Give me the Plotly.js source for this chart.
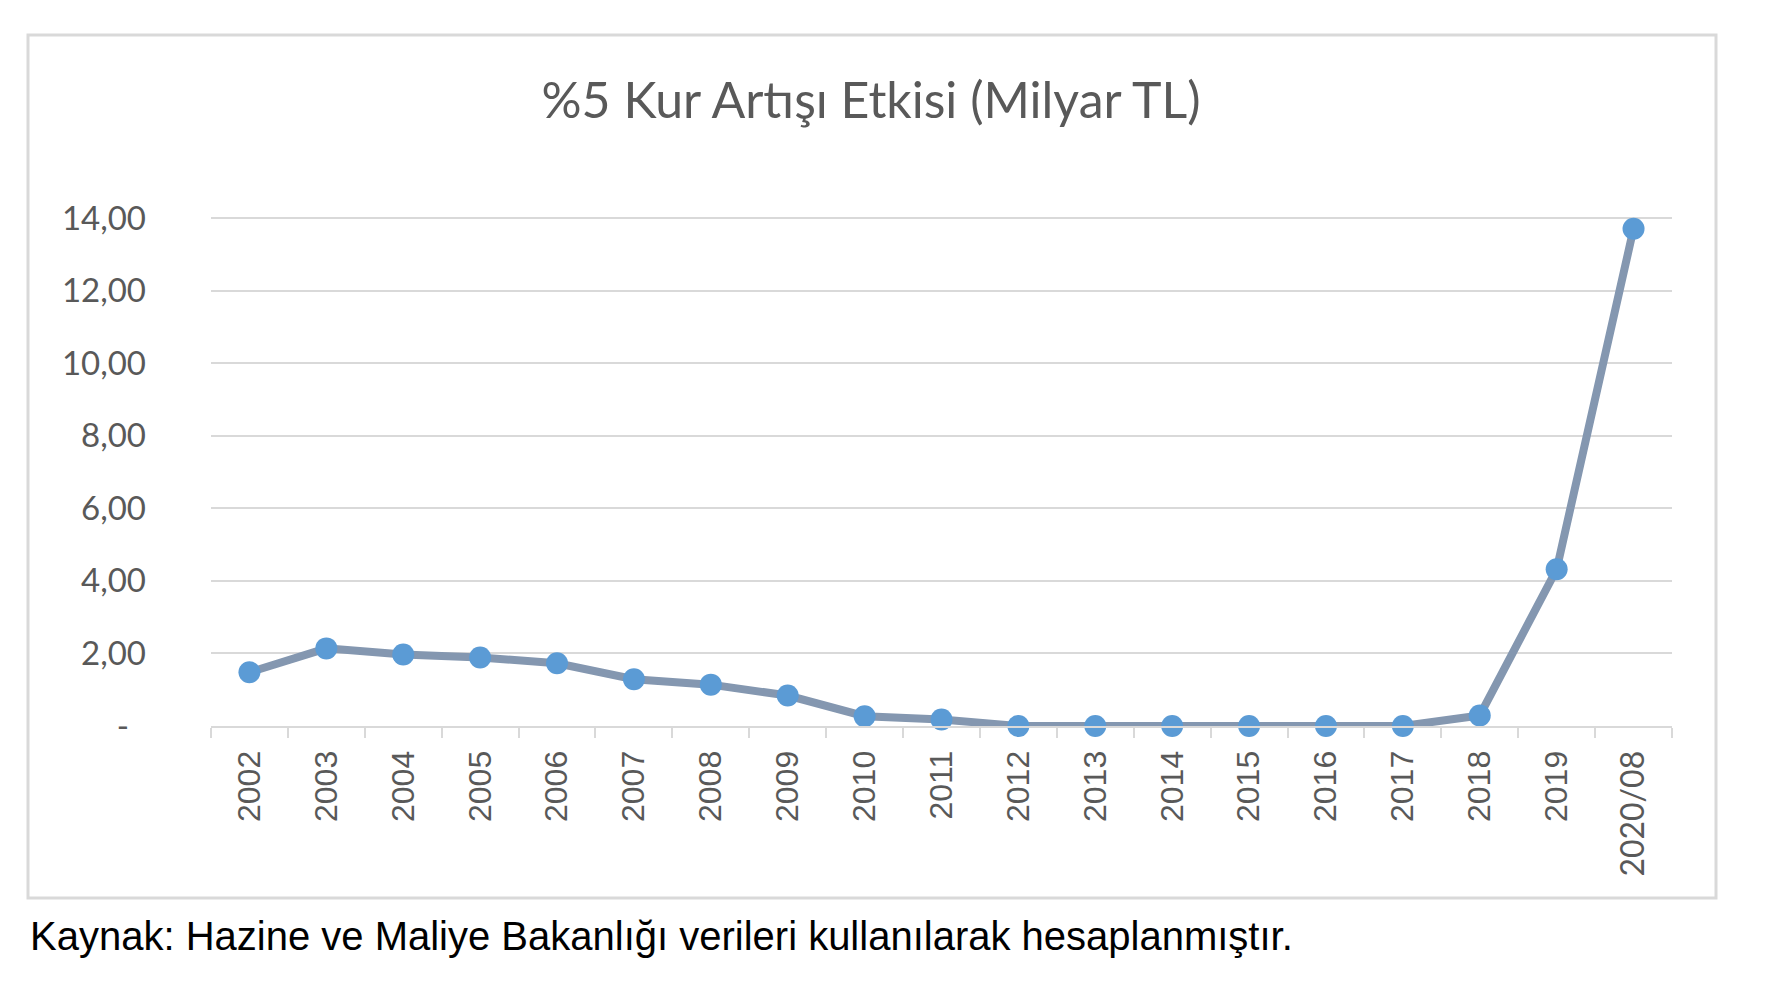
<!DOCTYPE html>
<html>
<head>
<meta charset="utf-8">
<script src="https://cdn.plot.ly/plotly-3.0.1.min.js"></script>
<style>
html,body{margin:0;padding:0;background:#fff;}
#chart{width:1778px;height:984px;}
</style>
</head>
<body>
<div id="chart"></div>
<script>
const categories = ["2002","2003","2004","2005","2006","2007","2008","2009","2010","2011","2012","2013","2014","2015","2016","2017","2018","2019","2020/08"];
const values = [1.48, 2.14, 1.97, 1.89, 1.73, 1.29, 1.14, 0.84, 0.27, 0.18, 0.0, 0.0, 0.0, 0.0, 0.0, 0.0, 0.29, 4.32, 13.71];
const yTickVals = [0, 2, 4, 6, 8, 10, 12, 14];
const yTickText = ["-\u00a0\u00a0", "2,00", "4,00", "6,00", "8,00", "10,00", "12,00", "14,00"];
const titleText = "%5 Kur Artışı Etkisi (Milyar TL)";
const sourceText = "Kaynak: Hazine ve Maliye Bakanlığı verileri kullanılarak hesaplanmıştır.";

// plot area in pixels
const L = 211, R = 1672, T = 216, B = 726, W = 1778, H = 984;
const pw = R - L, ph = B - T;
const px = x => (x - L) / pw;
const py = y => (B - y) / ph;

const xTickText = categories.map(c => c.indexOf("/") >= 0 ? '<span style="font-family:Lato">' + c + '</span>' : c);

const trace = {
  type: "scatter",
  mode: "lines+markers",
  x: categories,
  y: values,
  line: {color: "#8497b0", width: 8},
  marker: {color: "#5b9bd5", size: 22},
  cliponaxis: false,
  hoverinfo: "x+y"
};

const layout = {
  width: W, height: H,
  margin: {l: L, r: W - R, t: T, b: H - B},
  paper_bgcolor: "#ffffff",
  plot_bgcolor: "rgba(0,0,0,0)",
  showlegend: false,
  title: {
    text: titleText,
    font: {family: "Lato", size: 50, color: "#595959"},
    x: 871 / W, xanchor: "center",
    y: 1 - 100 / H, yanchor: "middle",
    xref: "container", yref: "container"
  },
  xaxis: {
    type: "category",
    range: [-0.5, 18.5],
    tickmode: "array",
    tickvals: categories,
    ticktext: xTickText,
    tickangle: -90,
    tickson: "boundaries",
    ticks: "outside",
    ticklen: 10,
    tickwidth: 2,
    tickcolor: "#d9d9d9",
    showline: true,
    linecolor: "#d9d9d9",
    linewidth: 2,
    showgrid: false,
    zeroline: false,
    ticklabelstandoff: 10,
    tickfont: {family: "Liberation Sans, Arial", size: 32, color: "#595959"}
  },
  yaxis: {
    range: [0, 14.06],
    tickmode: "array",
    tickvals: yTickVals,
    ticktext: yTickText,
    showgrid: true,
    gridcolor: "#d9d9d9",
    gridwidth: 2,
    zeroline: false,
    showline: false,
    ticks: "",
    ticklabelstandoff: 64,
    tickfont: {family: "Lato", size: 33, color: "#595959"}
  },
  shapes: [{
    type: "rect", xref: "paper", yref: "paper", layer: "below",
    x0: px(28), x1: px(1716), y0: py(898), y1: py(35),
    line: {color: "#d9d9d9", width: 3},
    fillcolor: "rgba(0,0,0,0)"
  }],
  annotations: [{
    text: sourceText,
    xref: "paper", yref: "paper",
    x: px(28), y: py(936),
    xanchor: "left", yanchor: "middle",
    showarrow: false,
    font: {family: "Liberation Sans, Arial", size: 40, color: "#000000"}
  }]
};

Plotly.newPlot("chart", [trace], layout, {displayModeBar: false, staticPlot: true});
</script>
</body>
</html>
